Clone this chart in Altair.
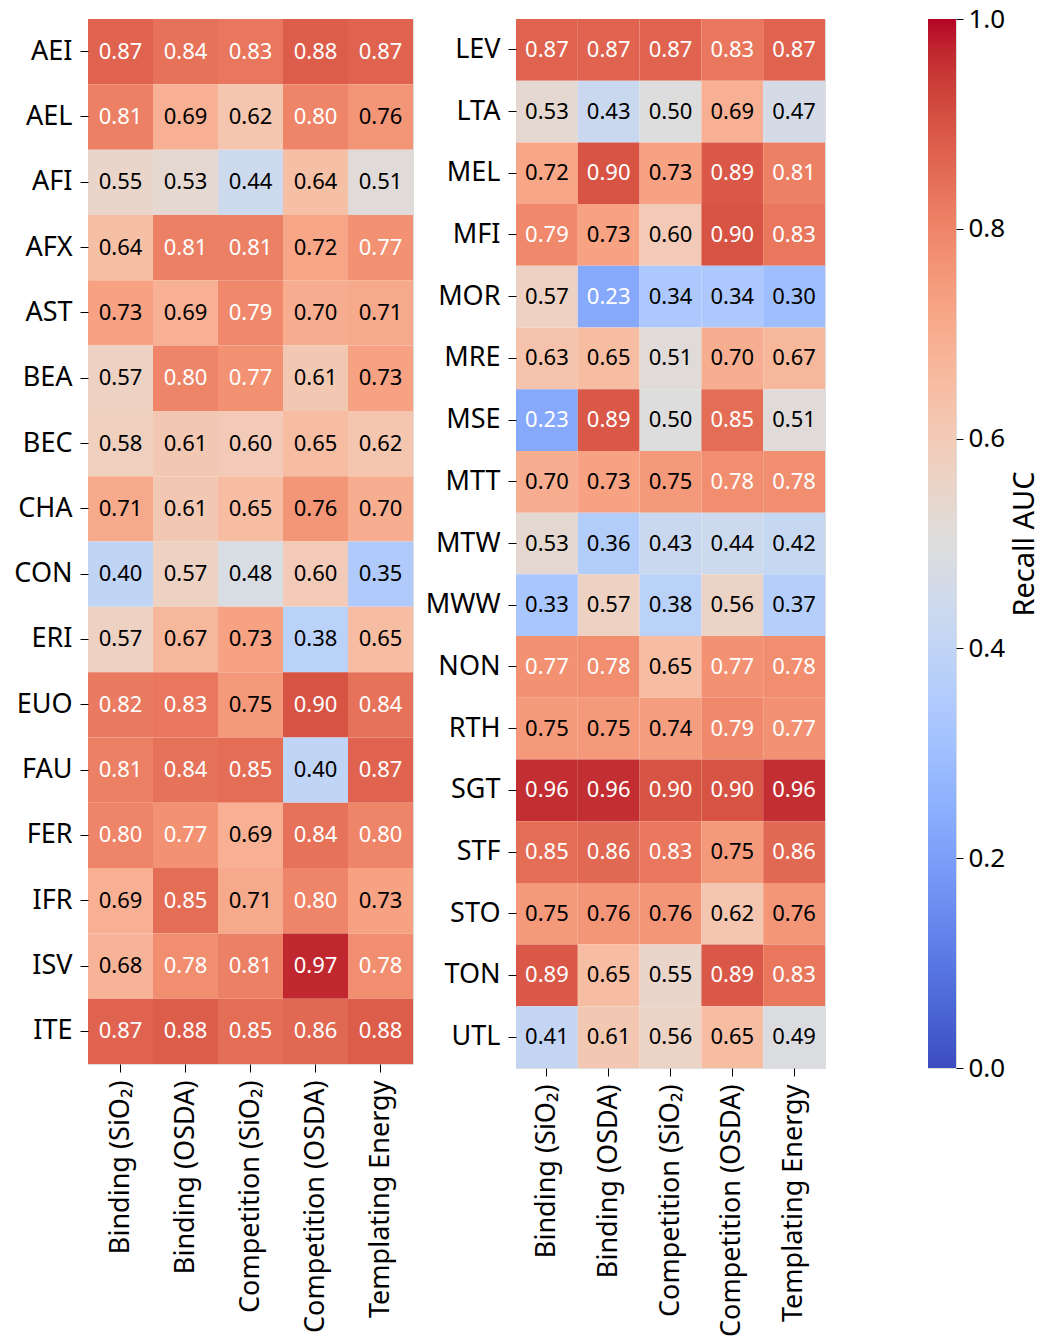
import altair as alt
import pandas as pd

methods = ["Binding (SiO₂)", "Binding (OSDA)", "Competition (SiO₂)",
           "Competition (OSDA)", "Templating Energy"]

left_rows = ["AEI", "AEL", "AFI", "AFX", "AST", "BEA", "BEC", "CHA",
             "CON", "ERI", "EUO", "FAU", "FER", "IFR", "ISV", "ITE"]
left_values = [
    [0.87, 0.84, 0.83, 0.88, 0.87],
    [0.81, 0.69, 0.62, 0.80, 0.76],
    [0.55, 0.53, 0.44, 0.64, 0.51],
    [0.64, 0.81, 0.81, 0.72, 0.77],
    [0.73, 0.69, 0.79, 0.70, 0.71],
    [0.57, 0.80, 0.77, 0.61, 0.73],
    [0.58, 0.61, 0.60, 0.65, 0.62],
    [0.71, 0.61, 0.65, 0.76, 0.70],
    [0.40, 0.57, 0.48, 0.60, 0.35],
    [0.57, 0.67, 0.73, 0.38, 0.65],
    [0.82, 0.83, 0.75, 0.90, 0.84],
    [0.81, 0.84, 0.85, 0.40, 0.87],
    [0.80, 0.77, 0.69, 0.84, 0.80],
    [0.69, 0.85, 0.71, 0.80, 0.73],
    [0.68, 0.78, 0.81, 0.97, 0.78],
    [0.87, 0.88, 0.85, 0.86, 0.88],
]

right_rows = ["LEV", "LTA", "MEL", "MFI", "MOR", "MRE", "MSE", "MTT", "MTW",
              "MWW", "NON", "RTH", "SGT", "STF", "STO", "TON", "UTL"]
right_values = [
    [0.87, 0.87, 0.87, 0.83, 0.87],
    [0.53, 0.43, 0.50, 0.69, 0.47],
    [0.72, 0.90, 0.73, 0.89, 0.81],
    [0.79, 0.73, 0.60, 0.90, 0.83],
    [0.57, 0.23, 0.34, 0.34, 0.30],
    [0.63, 0.65, 0.51, 0.70, 0.67],
    [0.23, 0.89, 0.50, 0.85, 0.51],
    [0.70, 0.73, 0.75, 0.78, 0.78],
    [0.53, 0.36, 0.43, 0.44, 0.42],
    [0.33, 0.57, 0.38, 0.56, 0.37],
    [0.77, 0.78, 0.65, 0.77, 0.78],
    [0.75, 0.75, 0.74, 0.79, 0.77],
    [0.96, 0.96, 0.90, 0.90, 0.96],
    [0.85, 0.86, 0.83, 0.75, 0.86],
    [0.75, 0.76, 0.76, 0.62, 0.76],
    [0.89, 0.65, 0.55, 0.89, 0.83],
    [0.41, 0.61, 0.56, 0.65, 0.49],
]

# coolwarm colormap (Moreland) stops
cw_pos = [i / 32 for i in range(33)]
cw_rgb = [
    (59, 76, 192), (68, 90, 204), (77, 104, 215), (87, 117, 225),
    (98, 130, 234), (108, 142, 241), (119, 154, 247), (130, 165, 251),
    (141, 176, 254), (152, 185, 255), (163, 194, 255), (174, 201, 253),
    (184, 208, 249), (194, 213, 244), (204, 217, 238), (213, 219, 230),
    (221, 221, 221), (229, 216, 209), (236, 211, 197), (241, 204, 185),
    (245, 196, 173), (247, 187, 160), (247, 177, 148), (247, 166, 135),
    (244, 154, 123), (241, 141, 111), (236, 127, 99), (229, 112, 88),
    (222, 96, 77), (213, 80, 66), (203, 62, 56), (192, 40, 47), (180, 4, 38),
]
cw_hex = ["#%02x%02x%02x" % c for c in cw_rgb]

FONT = "Noto Sans"
YLABEL_SIZE = 27
XLABEL_SIZE = 27
ANNOT_SIZE = 22


def to_long(rows, values):
    recs = []
    for r, vals in zip(rows, values):
        for m, v in zip(methods, vals):
            recs.append({"zeolite": r, "method": m, "value": v})
    return pd.DataFrame(recs)


color_scale = alt.Scale(domain=cw_pos, range=cw_hex, interpolate="rgb")


def heatmap(rows, values, w, h):
    df = to_long(rows, values)
    base = alt.Chart(df).encode(
        x=alt.X("method:N", sort=methods,
                scale=alt.Scale(paddingInner=0, paddingOuter=0),
                axis=alt.Axis(title=None, labelAngle=270, labelFontSize=XLABEL_SIZE,
                              labelFont=FONT, domain=False, tickSize=8,
                              tickColor="black", labelColor="black",
                              labelPadding=8, labelLimit=400)),
        y=alt.Y("zeolite:N", sort=rows,
                scale=alt.Scale(paddingInner=0, paddingOuter=0),
                axis=alt.Axis(title=None, labelFontSize=YLABEL_SIZE, labelFont=FONT,
                              domain=False, tickSize=8, tickColor="black",
                              labelColor="black", labelPadding=8)),
    )
    rects = base.mark_rect(stroke=None).encode(
        color=alt.Color("value:Q", scale=color_scale, legend=None)
    )
    texts = base.mark_text(font=FONT, fontSize=ANNOT_SIZE, baseline="middle",
                           align="center").encode(
        text=alt.Text("value:Q", format=".2f"),
        color=alt.condition("datum.value >= 0.765 || datum.value <= 0.25",
                            alt.value("white"), alt.value("black")),
    )
    return (rects + texts).properties(width=w, height=h)


left = heatmap(left_rows, left_values, 325, 1045)
right = heatmap(right_rows, right_values, 309, 1049)

cbar_df = pd.DataFrame({"lo": [0.0], "hi": [1.0]})
grad = alt.LinearGradient(
    gradient="linear",
    stops=[alt.GradientStop(offset=p, color=c) for p, c in zip(cw_pos, cw_hex)],
    x1=0, x2=0, y1=1, y2=0,
)
cbar = alt.Chart(cbar_df).mark_rect(color=grad, stroke=None).encode(
    x=alt.value(0), x2=alt.value(28),
    y=alt.Y("lo:Q", scale=alt.Scale(domain=[0, 1], nice=False, zero=False),
            axis=alt.Axis(orient="right", values=[0, 0.2, 0.4, 0.6, 0.8, 1.0],
                          format=".1f", title="Recall AUC", titleAngle=270,
                          titleBaseline="top",
                          titleFontSize=29, titleFont=FONT, titleFontWeight="normal",
                          titleColor="black", titlePadding=6,
                          labelFontSize=26, labelFont=FONT, labelColor="black",
                          tickSize=7, tickColor="black", labelPadding=5,
                          domain=False, grid=False)),
    y2="hi:Q",
).properties(width=28, height=1049)

chart = alt.hconcat(
    alt.hconcat(left, right, spacing=10),
    cbar,
    spacing=101,
).properties(
    padding={"left": 13, "top": 5, "right": 0, "bottom": 0}
).configure_view(stroke=None).configure(font=FONT)

chart.save("out.html", embed_options={"renderer": "svg", "actions": False})
